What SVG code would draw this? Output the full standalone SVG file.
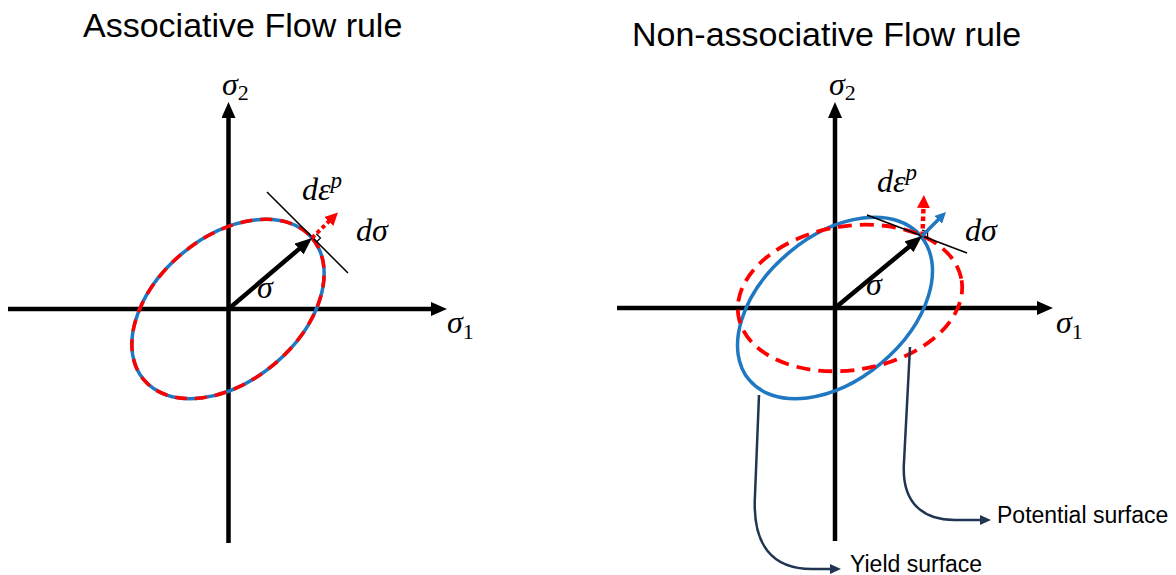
<svg xmlns="http://www.w3.org/2000/svg" width="1176" height="575" viewBox="0 0 1176 575">
<style>
  .title { font-family: "Liberation Sans", Arial, sans-serif; font-size: 34px; fill: #000; }
  .call { font-family: "Liberation Sans", Arial, sans-serif; font-size: 23px; fill: #000; }
  .math { font-family: "Liberation Serif", "Times New Roman", serif; font-style: italic; font-size: 32px; fill: #000; }
  .sub { font-family: "Liberation Serif", "Times New Roman", serif; font-style: normal; font-size: 22px; fill: #000; }
  .sup { font-family: "Liberation Serif", "Times New Roman", serif; font-style: italic; font-size: 23px; fill: #000; }
  .axis { stroke: #000; stroke-width: 4.5; fill: none; }
  .vec { stroke: #000; stroke-width: 4.5; fill: none; }
  .tan { stroke: #000; stroke-width: 1.5; fill: none; }
  .rt { stroke: #000; stroke-width: 1.2; fill: none; }
  .blue { stroke: #1f78c1; stroke-width: 3.5; fill: none; }
  .reddash { stroke: #ff0000; stroke-width: 3.5; fill: none; stroke-dasharray: 12 8; }
  .reddash2 { stroke: #ff0000; stroke-width: 3.8; fill: none; stroke-dasharray: 14 8; }
  .call-line { stroke: #1f3552; stroke-width: 2.5; fill: none; }
</style>
<defs>
  <marker id="axA" markerUnits="userSpaceOnUse" markerWidth="16" markerHeight="14" refX="1" refY="7" orient="auto">
    <path d="M0,0 L16,7 L0,14 z" fill="#000"/>
  </marker>
  <marker id="vecA" markerUnits="userSpaceOnUse" markerWidth="17" markerHeight="14" refX="1" refY="7" orient="auto">
    <path d="M0,0 L17,7 L0,14 z" fill="#000"/>
  </marker>
  <marker id="redA" markerUnits="userSpaceOnUse" markerWidth="13" markerHeight="13" refX="1" refY="6.5" orient="auto">
    <path d="M0,0 L13,6.5 L0,13 z" fill="#ff0000"/>
  </marker>
  <marker id="blueA" markerUnits="userSpaceOnUse" markerWidth="11" markerHeight="11" refX="1" refY="5.5" orient="auto">
    <path d="M0,0 L11,5.5 L0,11 z" fill="#1f78c1"/>
  </marker>
  <marker id="navyA" markerUnits="userSpaceOnUse" markerWidth="11" markerHeight="10" refX="1" refY="5" orient="auto">
    <path d="M0,0 L11,5 L0,10 z" fill="#1f3552"/>
  </marker>
</defs>

<g id="title-left"><text class="title" x="83" y="37">Associative Flow rule</text></g>
<g id="title-right"><text class="title" x="632" y="46">Non-associative Flow rule</text></g>

<!-- Left diagram -->
<g id="left-axes">
  <line class="axis" x1="8" y1="309" x2="432" y2="309" marker-end="url(#axA)"/>
  <line class="axis" x1="228.5" y1="543" x2="228.5" y2="117" marker-end="url(#axA)"/>
  <text class="math" x="222" y="95">σ<tspan class="sub" dy="5">2</tspan></text>
  <text class="math" x="447" y="333">σ<tspan class="sub" dy="6">1</tspan></text>
</g>
<g id="left-surface">
  <ellipse class="blue" cx="228" cy="309" rx="110" ry="72" transform="rotate(-40 228 309)"/>
  <ellipse class="reddash" cx="228" cy="309" rx="110" ry="72" transform="rotate(-40 228 309)"/>
</g>
<g id="left-vectors">
  <line class="tan" x1="267" y1="192" x2="348" y2="273"/>
  <polyline class="rt" points="316.2,233.8 320.5,238 316.2,242.2"/>
  <line stroke="#ff0000" stroke-width="4" stroke-dasharray="4 3" x1="312" y1="238" x2="329.4" y2="220.9" marker-end="url(#redA)"/>
  <line class="vec" x1="228.5" y1="309" x2="299.8" y2="248.4" marker-end="url(#vecA)"/>
  <text class="math" x="257" y="298">σ</text>
  <text class="math" x="302" y="200">dε<tspan class="sup" dy="-12">p</tspan></text>
  <text class="math" x="356" y="241">dσ</text>
</g>

<!-- Right diagram -->
<g id="right-axes">
  <line class="axis" x1="617" y1="308" x2="1038" y2="308" marker-end="url(#axA)"/>
  <line class="axis" x1="835" y1="541" x2="835" y2="117" marker-end="url(#axA)"/>
  <text class="math" x="829" y="95">σ<tspan class="sub" dy="5">2</tspan></text>
  <text class="math" x="1056" y="333">σ<tspan class="sub" dy="6">1</tspan></text>
</g>
<g id="yield-surface">
  <ellipse class="blue" cx="835" cy="308" rx="112" ry="72" transform="rotate(-40 835 308)"/>
</g>
<g id="potential-surface">
  <ellipse class="reddash2" cx="850" cy="298" rx="113" ry="72" transform="rotate(-9 850 298)"/>
</g>
<g id="right-vectors">
  <line class="tan" x1="867" y1="215" x2="967" y2="253"/>
  <polyline class="rt" points="922,230 927.6,232.1 927.6,238.1"/>
  <line stroke="#ff0000" stroke-width="4.5" stroke-dasharray="4.5 3" x1="922.5" y1="236" x2="923.5" y2="207" marker-end="url(#redA)"/>
  <line stroke="#1f78c1" stroke-width="3.5" x1="922" y1="236" x2="938.9" y2="219.1" marker-end="url(#blueA)"/>
  <line class="vec" x1="835" y1="308" x2="909.7" y2="246.2" marker-end="url(#vecA)"/>
  <text class="math" x="866" y="295">σ</text>
  <text class="math" x="877" y="192">dε<tspan class="sup" dy="-12">p</tspan></text>
  <text class="math" x="965" y="241">dσ</text>
</g>

<g id="connectors">
  <path class="call-line" d="M759,395 L755,495 C752,545 772,569 812,569 L831,569" marker-end="url(#navyA)"/>
  <path class="call-line" d="M910,347 L904,462 C901,505 925,520 955,520 L981,520" marker-end="url(#navyA)"/>
</g>
<g id="label-yield"><text class="call" x="850" y="572">Yield surface</text></g>
<g id="label-potential"><text class="call" x="997" y="523">Potential surface</text></g>
</svg>
